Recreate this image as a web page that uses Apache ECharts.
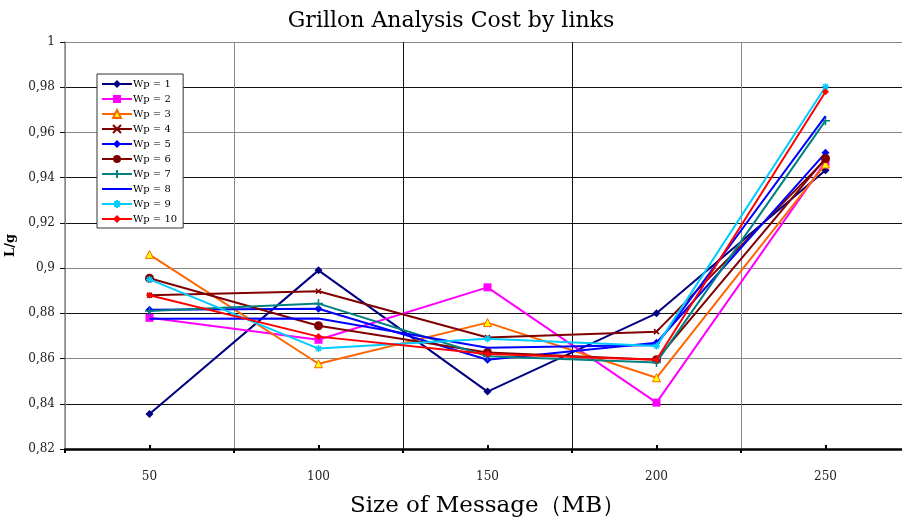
<!DOCTYPE html>
<html>
<head>
<meta charset="utf-8">
<script src="https://cdn.jsdelivr.net/npm/echarts@6/dist/echarts.min.js"></script>
<style>
  html, body { margin: 0; padding: 0; background: #fff; }
  #chart { width: 902px; height: 521px; }
</style>
</head>
<body>
<div id="chart"></div>
<script>
// Message sizes (MB)
const sizes = ['50', '100', '150', '200', '250'];
const seriesNames = ['Wp = 1', 'Wp = 2', 'Wp = 3', 'Wp = 4', 'Wp = 5', 'Wp = 6', 'Wp = 7', 'Wp = 8', 'Wp = 9', 'Wp = 10'];

// L/g values per Wp
const wp1  = [0.8355, 0.899, 0.8454, 0.880, 0.9433];
const wp2  = [0.878, 0.8683, 0.8915, 0.8405, 0.947];
const wp3  = [0.906, 0.8577, 0.8759, 0.8515, 0.946];
const wp4  = [0.888, 0.8898, 0.8693, 0.8719, 0.948];
const wp5  = [0.8816, 0.882, 0.8595, 0.867, 0.951];
const wp6  = [0.8955, 0.8745, 0.8627, 0.8595, 0.9485];
const wp7  = [0.881, 0.8843, 0.861, 0.8583, 0.9652];
const wp8  = [0.8776, 0.8777, 0.8648, 0.866, 0.9672];
const wp9  = [0.8950, 0.8644, 0.8688, 0.8655, 0.9802];
const wp10 = [0.888, 0.8697, 0.862, 0.8595, 0.978];

const yTicks = { min: 0.82, max: 1, interval: 0.02 };

const SERIF = '"DejaVu Serif", "Liberation Serif", serif';
const CROSS = 'path://M0,0L10,10M10,0L0,10';
const PLUS = 'path://M5,0L5,10M0,5L10,5';
const ASTER = 'path://M5,0L5,10M0,5L10,5M1.5,1.5L8.5,8.5M8.5,1.5L1.5,8.5';

const styles = [
  { color: '#000080', symbol: 'diamond', size: 8 },
  { color: '#FF00FF', symbol: 'rect', size: 8 },
  { color: '#FF6600', symbol: 'triangle', size: 8, fill: '#FFFF00' },
  { color: '#800000', symbol: CROSS, size: 5, stroke: true },
  { color: '#0000FF', symbol: 'diamond', size: 8 },
  { color: '#800000', symbol: 'circle', size: 9 },
  { color: '#008080', symbol: PLUS, size: 9, stroke: true },
  { color: '#0000FF', symbol: 'none', size: 0 },
  { color: '#00CCFF', symbol: ASTER, size: 7, stroke: true },
  { color: '#FF0000', symbol: 'diamond', size: 7 }
];
const values = [wp1, wp2, wp3, wp4, wp5, wp6, wp7, wp8, wp9, wp10];

const series = values.map((vals, i) => {
  const s = styles[i];
  const itemStyle = { color: s.fill || s.color, borderColor: s.color, borderWidth: s.stroke ? 1.5 : (s.fill ? 1 : 0) };
  return {
    name: seriesNames[i],
    type: 'line',
    data: vals,
    xAxisIndex: 0,
    symbol: s.symbol,
    symbolSize: s.size,
    showSymbol: s.symbol !== 'none',
    lineStyle: { color: s.color, width: 2 },
    itemStyle: itemStyle,
    emphasis: { disabled: true },
    animation: false,
    z: 3 + i
  };
});

// legend entries; the plain line entry hides its symbol
const legendData = seriesNames.map((n, i) =>
  styles[i].symbol === 'none' ? { name: n, itemStyle: { opacity: 0 } } : n
);

const chart = echarts.init(document.getElementById('chart'), null, { renderer: 'canvas' });
chart.setOption({
  backgroundColor: '#fff',
  animation: false,
  title: {
    text: 'Grillon Analysis Cost by links',
    left: 'center',
    top: 5,
    textStyle: { fontFamily: SERIF, fontWeight: 'normal', fontSize: 22, color: '#000' }
  },
  legend: {
    orient: 'vertical',
    left: 97,
    top: 74,
    padding: [5, 6, 4, 4],
    itemGap: 5,
    itemWidth: 30,
    itemHeight: 10,
    backgroundColor: '#fff',
    borderColor: '#333',
    borderWidth: 1,
    borderRadius: 0,
    data: legendData,
    textStyle: { fontFamily: SERIF, fontSize: 10, color: '#000', padding: [0, 0, 0, -4] }
  },
  grid: { left: 65, right: -8, top: 42, bottom: 72, containLabel: false, outerBoundsMode: 'none' },
  xAxis: [
    {
      type: 'category',
      data: sizes,
      boundaryGap: true,
      position: 'bottom',
      axisLine: { lineStyle: { color: '#000', width: 2.5 } },
      axisTick: { show: true, length: 4, lineStyle: { color: '#000', width: 2 } },
      axisLabel: { fontFamily: SERIF, fontSize: 12, color: '#222', margin: 22 },
      splitLine: { show: true, lineStyle: { color: ['#888', '#888', '#111', '#111', '#888', '#888'], width: 1 } },
      name: 'Size of Message（MB）',
      nameLocation: 'middle',
      nameGap: 46,
      nameTextStyle: { fontFamily: SERIF, fontSize: 23, color: '#000' }
    },
    {
      type: 'category',
      data: sizes,
      boundaryGap: true,
      position: 'bottom',
      axisLine: { show: false },
      axisTick: { show: true, alignWithLabel: true, inside: true, length: 4, lineStyle: { color: '#000', width: 2 } },
      axisLabel: { show: false },
      splitLine: { show: false }
    }
  ],
  yAxis: {
    type: 'value',
    min: yTicks.min,
    max: yTicks.max,
    interval: yTicks.interval,
    axisLine: { show: true, lineStyle: { color: '#888', width: 1.5 } },
    axisTick: { show: true, length: 5, lineStyle: { color: '#111' } },
    axisLabel: {
      fontFamily: SERIF, fontSize: 12, color: '#222', margin: 10,
      formatter: v => String(Math.round(v * 100) / 100).replace('.', ',')
    },
    splitLine: {
      show: true,
      lineStyle: { color: ['#000', '#111', '#888', '#111', '#888', '#111', '#111', '#888', '#111', '#888'], width: 1 }
    },
    name: 'L/g',
    nameLocation: 'middle',
    nameRotate: 90,
    nameGap: 4,
    nameTextStyle: { fontFamily: SERIF, fontSize: 13, fontWeight: 'bold', color: '#000' }
  },
  series: series
});
</script>
</body>
</html>
